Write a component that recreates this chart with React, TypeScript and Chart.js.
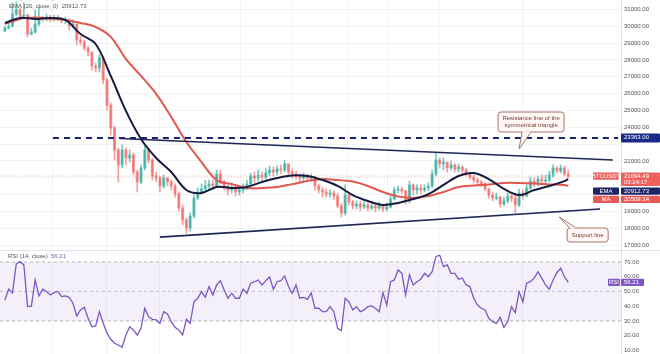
import React, { useEffect, useRef } from 'react';
import { Chart, registerables } from 'chart.js';
Chart.register(...registerables);

const FONT = '"Liberation Sans", Arial, sans-serif';

// ---- Candles (4h BTCUSDT) ----
const opens = [
  29720, 29900, 30020, 30730, 30970, 30610, 30670, 29540, 29660, 30140,
  30500, 30440, 30550, 30380, 30500, 30440, 30320, 30380, 30020, 30140,
  29190, 29070, 28710, 28470, 27640, 27520, 28120, 26810, 25320, 23960,
  22650, 21760, 22650, 22170, 22350, 21340, 20750, 21580, 22650, 22050,
  21100, 20980, 20510, 20980, 20750, 20510, 20030, 19200, 18490, 18010,
  18720, 19790, 20150, 20330, 20510, 20630, 20510, 21220, 20750, 20510,
  20270, 20450, 20150, 20270, 20390, 20630, 21100, 20980, 21160, 21040,
  21280, 21460, 21340, 21520, 21460, 21820, 21340, 21220, 21100, 20980,
  21100, 20980, 21040, 20510, 20270, 20150, 20030, 20090, 19910, 19320,
  18900, 19970, 19560, 19320, 19440, 19260, 19380, 19200, 19320, 19200,
  19380, 19140, 19260, 19730, 20270, 20330, 20210, 19620, 20570, 20270,
  20390, 20270, 20390, 20510, 21220, 22050, 21820, 21930, 21580, 21760,
  21520, 21640, 21460, 21220, 21040, 20860, 20750, 20630, 20330, 19970,
  19790, 19850, 19440, 19620, 19910, 19790, 19380, 20090, 19910, 20390,
  20800, 20630, 20920, 20800, 20860, 21160, 21580, 21400, 21580, 21220,
];
const highs = [
  30020, 30200, 31390, 31450, 31090, 31400, 30730, 29900, 30970, 31150,
  30610, 30730, 30670, 30670, 30670, 30500, 30550, 30440, 30380, 30140,
  29420, 29190, 28830, 28470, 27820, 28300, 28240, 26930, 25440, 24070,
  22770, 22950, 22770, 22650, 22470, 21460, 21760, 22890, 22770, 22170,
  21340, 21100, 21160, 21040, 20860, 20630, 20150, 19380, 18610, 18900,
  19970, 20390, 20630, 20860, 20860, 20860, 21460, 21460, 20860, 20690,
  20690, 20570, 20450, 20630, 20860, 21280, 21340, 21460, 21340, 21580,
  21700, 21640, 21700, 21760, 22050, 21820, 21520, 21400, 21220, 21280,
  21220, 21220, 21100, 20630, 20450, 20330, 20270, 20210, 20090, 19500,
  20570, 20030, 19670, 19620, 19560, 19560, 19500, 19500, 19500, 19560,
  19440, 19500, 19910, 20450, 20510, 20450, 20270, 20800, 20630, 20570,
  20570, 20570, 20690, 21460, 22470, 22170, 22170, 21930, 21990, 21820,
  21820, 21700, 21580, 21340, 21160, 20980, 20860, 20690, 20390, 20150,
  20090, 19910, 19850, 20090, 20030, 20090, 20330, 20270, 20570, 21040,
  20980, 21100, 21160, 21160, 21400, 21760, 21640, 21760, 21700, 21460,
];
const lows = [
  29660, 29840, 29960, 30610, 30500, 30500, 29370, 29480, 29600, 30020,
  30260, 30320, 30260, 30320, 30320, 30200, 30140, 29780, 29900, 28890,
  28890, 28590, 28240, 27400, 27280, 27280, 26570, 25030, 23540, 22050,
  20750, 21580, 21760, 21930, 21160, 20150, 20630, 21460, 21870, 20860,
  20750, 20150, 20390, 20510, 20270, 19850, 19020, 18190, 17710, 17830,
  18610, 19680, 20030, 20210, 20270, 20330, 20450, 20630, 20270, 19970,
  20090, 19910, 19970, 20090, 20270, 20510, 20690, 20800, 20750, 20920,
  21100, 21100, 21160, 21220, 21340, 21160, 20980, 20920, 20750, 20800,
  20750, 20800, 20270, 20090, 19850, 19850, 19850, 19680, 19200, 18660,
  18780, 19380, 19140, 19140, 19020, 19140, 19020, 19080, 18960, 19080,
  18960, 19020, 19200, 19680, 20090, 20030, 19440, 19500, 19970, 20030,
  20030, 20150, 20210, 20390, 21100, 21580, 21460, 21340, 21460, 21340,
  21340, 21220, 21100, 20920, 20690, 20570, 20450, 20210, 19790, 19620,
  19680, 19260, 19320, 19500, 19560, 18900, 19260, 19730, 19850, 20270,
  20450, 20510, 20630, 20630, 20750, 21040, 21280, 21280, 21100, 20980,
];
const closes = [
  29900, 30020, 30730, 30970, 30610, 30670, 29540, 29660, 30140, 30500,
  30440, 30550, 30380, 30500, 30440, 30320, 30380, 30020, 30140, 29190,
  29070, 28710, 28470, 27640, 27520, 28120, 26810, 25320, 23960, 22650,
  21760, 22650, 22170, 22350, 21340, 20750, 21580, 22650, 22050, 21100,
  20980, 20510, 20980, 20750, 20510, 20030, 19200, 18490, 18010, 18720,
  19790, 20150, 20330, 20510, 20630, 20510, 21220, 20750, 20510, 20270,
  20450, 20150, 20270, 20390, 20630, 21100, 20980, 21160, 21040, 21280,
  21460, 21340, 21520, 21460, 21820, 21340, 21220, 21100, 20980, 21100,
  20980, 21040, 20510, 20270, 20150, 20030, 20090, 19910, 19320, 18900,
  19970, 19560, 19320, 19440, 19260, 19380, 19200, 19320, 19200, 19380,
  19140, 19260, 19730, 20270, 20330, 20210, 19620, 20570, 20270, 20390,
  20270, 20390, 20510, 21220, 22050, 21820, 21930, 21580, 21760, 21520,
  21640, 21460, 21220, 21040, 20860, 20750, 20630, 20330, 19970, 19790,
  19850, 19440, 19620, 19910, 19790, 19380, 20090, 19910, 20390, 20800,
  20630, 20920, 20800, 20860, 21160, 21580, 21400, 21580, 21220, 21094.49,
];

// ---- Indicator lines (sampled at candle indices) ----
const lineIdx = [
  0, 4, 8, 12, 16, 20, 24, 28, 32, 36, 40, 44, 48, 52, 56, 60, 64, 68, 72, 76,
  80, 84, 88, 92, 96, 100, 104, 108, 112, 116, 120, 124, 128, 132, 136, 140, 144, 148, 149,
];
const emaVals = [
  30200, 30500, 30440, 30500, 30380, 29540, 28950, 27050, 24970, 23300,
  22170, 21340, 20270, 20090, 20450, 20390, 20450, 20750, 20980, 21130,
  21100, 20860, 20510, 19970, 19620, 19380, 19500, 19730, 20030, 20570,
  21100, 21280, 20920, 20330, 19970, 20270, 20510, 20800, 20912.73,
];
const maVals = [
  30140, 30440, 30520, 30460, 30380, 30200, 29960, 29370, 28060, 27050,
  25980, 24610, 23120, 21930, 20860, 20620, 20390, 20390, 20450, 20620,
  20800, 20920, 20860, 20770, 20510, 20150, 19890, 19790, 19910, 20150,
  20450, 20540, 20600, 20690, 20690, 20660, 20600, 20570, 20509.34,
];

// ---- RSI (14) ----
const rsi = [
  44.2, 51.5, 49, 68.6, 70.2, 68, 39.7, 40, 57.8, 47,
  51.5, 50, 47.6, 49.2, 50, 46.5, 47, 46, 42, 33.4,
  37.5, 39.3, 31.8, 26, 26.6, 36.3, 28.4, 21.7, 17.6, 14.9,
  13.7, 12.2, 20.5, 26.1, 23.9, 20.5, 25, 38.6, 32.9, 31.1,
  30.7, 28.4, 36.3, 34.7, 29.5, 25.7, 23.9, 20.5, 31.1, 28.4,
  43, 45.4, 49.9, 46, 53.3, 47.6, 54.4, 57.3, 51, 45.4,
  48.8, 45.4, 45.4, 51.5, 48.8, 55.6, 56.6, 57.8, 54.4, 57.3,
  60, 51.5, 56.6, 57.3, 60.5, 53.3, 48.8, 54.4, 45.4, 46,
  44.7, 49.2, 38.6, 38.6, 36.3, 36.3, 39.7, 36.3, 25, 23.4,
  45.4, 43, 37.5, 39.7, 36.3, 37.5, 39.7, 40.2, 38.6, 36.3,
  49.2, 40.8, 56.6, 57.8, 64.6, 62.3, 47.6, 61.2, 54.4, 56.6,
  58.3, 62.3, 60, 63.4, 73.6, 74.7, 66.8, 68, 62.3, 62.3,
  58.3, 59, 54.4, 53.3, 45.4, 40.8, 38.6, 37.5, 31.8, 29.5,
  28.4, 32.5, 25.7, 29.5, 39.7, 35.6, 49.9, 43, 55.6, 56.6,
  59, 63.4, 59, 54.4, 51.5, 57.8, 62.7, 65.7, 60, 56.21,
];

// ---- Axis ticks / levels ----
const priceTicks = [17000, 18000, 19000, 20000, 21000, 22000, 23000, 24000, 25000, 26000, 27000, 28000, 29000, 30000, 31000];
const hiddenPriceTicks = [20000, 21000, 23000];
const rsiTicks = [10, 20, 30, 40, 50, 60, 70];
const rsiLevels = [70, 50, 30];
const resistanceLevel = 23363;
const resistanceLevelX = [12.7, 162.2];
const resistanceLineX = [30.4, 160.8];
const resistanceLineY = [23330, 22050];
const supportLineX = [41, 157.4];
const supportLineY = [17470, 19140];
const lastPrice = 21094.49;
const countdown = '03:24:17';
const emaLast = 20912.73;
const maLast = 20509.34;
const rsiLast = 56.21;
const vGridIdx = [12.7, 27, 41, 62.4, 76.2, 90.5, 101.3, 114.6, 136.8];

const X_MIN = -1.3;
const X_MAX = 162.96;
const UP = 'rgba(38,166,154,0.62)';
const DOWN = 'rgba(239,83,80,0.55)';
const NAVY = '#1c2566';
const RED = '#ef5350';
const PURPLE = '#7e57c2';

function rr(ctx: CanvasRenderingContext2D, x: number, y: number, w: number, h: number, r: number) {
  ctx.beginPath();
  ctx.moveTo(x + r, y);
  ctx.lineTo(x + w - r, y);
  ctx.quadraticCurveTo(x + w, y, x + w, y + r);
  ctx.lineTo(x + w, y + h - r);
  ctx.quadraticCurveTo(x + w, y + h, x + w - r, y + h);
  ctx.lineTo(x + r, y + h);
  ctx.quadraticCurveTo(x, y + h, x, y + h - r);
  ctx.lineTo(x, y + r);
  ctx.quadraticCurveTo(x, y, x + r, y);
  ctx.closePath();
}

function badge(ctx: CanvasRenderingContext2D, x: number, y: number, w: number, h: number, bg: string, texts: string[], align: 'left' | 'center' = 'left') {
  ctx.fillStyle = bg;
  rr(ctx, x, y, w, h, 1);
  ctx.fill();
  ctx.fillStyle = '#fff';
  ctx.font = `6px ${FONT}`;
  ctx.textBaseline = 'middle';
  ctx.textAlign = align;
  texts.forEach((t, k) => {
    const tx = align === 'center' ? x + w / 2 : x + 3;
    ctx.fillText(t, tx, y + 3.6 + k * 6.3);
  });
}

function callout(ctx: CanvasRenderingContext2D, box: { x: number; y: number; w: number; h: number }, tip: { x: number; y: number }, b1: { x: number; y: number }, b2: { x: number; y: number }, lines: string[]) {
  const fill = 'rgba(255,247,245,0.95)';
  const border = '#a8746c';
  ctx.lineWidth = 1;
  rr(ctx, box.x, box.y, box.w, box.h, 3);
  ctx.fillStyle = fill;
  ctx.fill();
  ctx.strokeStyle = border;
  ctx.stroke();
  ctx.beginPath();
  ctx.moveTo(b1.x, b1.y);
  ctx.lineTo(tip.x, tip.y);
  ctx.lineTo(b2.x, b2.y);
  ctx.closePath();
  ctx.fillStyle = fill;
  ctx.fill();
  ctx.beginPath();
  ctx.moveTo(b1.x, b1.y);
  ctx.lineTo(tip.x, tip.y);
  ctx.lineTo(b2.x, b2.y);
  ctx.strokeStyle = border;
  ctx.stroke();
  ctx.beginPath();
  ctx.moveTo(b1.x + 0.8, b1.y);
  ctx.lineTo(b2.x - 0.8, b2.y);
  ctx.strokeStyle = fill;
  ctx.lineWidth = 1.4;
  ctx.stroke();
  ctx.fillStyle = '#7a3b33';
  ctx.font = `6px ${FONT}`;
  ctx.textAlign = 'center';
  ctx.textBaseline = 'middle';
  const n = lines.length;
  lines.forEach((t, k) => {
    ctx.fillText(t, box.x + box.w / 2, box.y + box.h / 2 + (k - (n - 1) / 2) * 7);
  });
}

const priceOverlay = {
  id: 'priceOverlay',
  afterDraw(chart: any) {
    const { ctx, scales } = chart;
    const xs = scales.x;
    const ys = scales.y;
    ctx.save();
    // legend rows (top-left)
    ctx.font = `6px ${FONT}`;
    ctx.fillStyle = '#555';
    ctx.textAlign = 'left';
    ctx.textBaseline = 'middle';
    ctx.fillText(`MA (50, close, 0)  ${maLast.toFixed(2)}`, 9, -1.5);
    ctx.fillText(`EMA (20, close, 0)  ${emaLast.toFixed(2)}`, 9, 6);

    // callout: resistance
    const t1 = { x: xs.getPixelForValue(136), y: ys.getPixelForValue(22707) };
    const box1 = { x: t1.x - 21, y: t1.y - 37, w: 66, h: 20 };
    callout(ctx, box1, t1, { x: box1.x + 24, y: box1.y + box1.h }, { x: box1.x + 33, y: box1.y + box1.h }, ['Resistance line of the', 'symmetrical triangle']);
    // callout: support
    const t2 = { x: xs.getPixelForValue(146.6), y: ys.getPixelForValue(18664) };
    const box2 = { x: t2.x + 8, y: t2.y + 11, w: 41, h: 14 };
    callout(ctx, box2, t2, { x: box2.x + 2.5, y: box2.y }, { x: box2.x + 9, y: box2.y }, ['Support line']);

    // right-axis badges
    const axL = chart.chartArea.right;
    const vw = 660 - axL;
    const lblX = axL - 28;
    const yr = ys.getPixelForValue(resistanceLevel);
    badge(ctx, axL, yr - 4.5, vw, 9, '#1b2a8a', [resistanceLevel.toFixed(2)]);
    const yb = ys.getPixelForValue(lastPrice);
    const btcTop = yb - 3.6;
    badge(ctx, lblX, btcTop, 26, 7.2, '#f0605c', ['BTCUSDT'], 'center');
    badge(ctx, axL, btcTop, vw, 13.5, '#f0605c', [lastPrice.toFixed(2), countdown]);
    const emaTop = btcTop + 15;
    badge(ctx, lblX, emaTop, 26, 7.2, NAVY, ['EMA'], 'center');
    badge(ctx, axL, emaTop, vw, 7.2, NAVY, [emaLast.toFixed(2)]);
    const maTop = emaTop + 8.2;
    badge(ctx, lblX, maTop, 26, 7.2, '#ea5a55', ['MA'], 'center');
    badge(ctx, axL, maTop, vw, 7.2, '#ea5a55', [maLast.toFixed(2)]);
    ctx.restore();
  },
};

const rsiOverlay = {
  id: 'rsiOverlay',
  afterDraw(chart: any) {
    const { ctx, scales, chartArea } = chart;
    const ys = scales.y;
    ctx.save();
    ctx.strokeStyle = '#e0e3eb';
    ctx.lineWidth = 1;
    ctx.beginPath();
    ctx.moveTo(0, 0.5);
    ctx.lineTo(660, 0.5);
    ctx.stroke();
    ctx.font = `6px ${FONT}`;
    ctx.textAlign = 'left';
    ctx.textBaseline = 'middle';
    ctx.fillStyle = '#555';
    const title = 'RSI (14, close)  ';
    ctx.fillText(title, 8, 6);
    const tw = ctx.measureText(title).width;
    ctx.fillStyle = PURPLE;
    ctx.fillText(rsiLast.toFixed(2), 8 + tw, 6);
    const y = ys.getPixelForValue(rsiLast);
    const axL = chartArea.right;
    badge(ctx, axL - 13, y - 3.6, 12, 7.2, PURPLE, ['RSI'], 'center');
    badge(ctx, axL, y - 3.6, 23, 7.2, PURPLE, [rsiLast.toFixed(2)]);
    ctx.restore();
  },
};

const idx = closes.map((_, i) => i);
const candleColors = closes.map((c, i) => (c >= opens[i] ? UP : DOWN));

function xScale() {
  return {
    type: 'linear' as const,
    min: X_MIN,
    max: X_MAX,
    offset: false,
    grid: { color: 'rgba(42,46,57,0.06)', drawTicks: false, offset: false },
    border: { display: false },
    ticks: { display: false },
    afterBuildTicks: (s: any) => {
      s.ticks = vGridIdx.map((v) => ({ value: v }));
    },
    afterFit: (s: any) => {
      s.height = 0;
      s.paddingLeft = 0;
      s.paddingRight = 0;
    },
  };
}

function yFit(s: any) {
  s.width = 39;
  s.paddingTop = 0;
  s.paddingBottom = 0;
}

export default function App() {
  const priceRef = useRef<HTMLCanvasElement>(null);
  const rsiRef = useRef<HTMLCanvasElement>(null);

  useEffect(() => {
    document.body.style.margin = '0';
    Chart.defaults.font.family = FONT;
    Chart.defaults.color = '#555';

    const lineDs = (data: any[], color: string, width: number, order: number, extra: any = {}) => ({
      type: 'line' as const,
      data,
      borderColor: color,
      borderWidth: width,
      pointRadius: 0,
      fill: false,
      order,
      ...extra,
    });

    const priceChart = new Chart(priceRef.current as HTMLCanvasElement, {
      type: 'bar',
      data: {
        datasets: [
          lineDs([{ x: X_MIN, y: lastPrice }, { x: X_MAX, y: lastPrice }], 'rgba(239,83,80,0.45)', 1, 10, { borderDash: [1, 2] }),
          {
            type: 'bar',
            data: idx.map((i) => ({ x: i, y: [lows[i], highs[i]] })),
            backgroundColor: candleColors,
            barThickness: 1,
            grouped: false,
            order: 6,
          },
          {
            type: 'bar',
            data: idx.map((i) => ({ x: i, y: [opens[i], closes[i]] })),
            backgroundColor: candleColors,
            barThickness: 2.4,
            minBarLength: 1,
            grouped: false,
            order: 5,
          },
          lineDs(lineIdx.map((v, k) => ({ x: v, y: maVals[k] })), '#e0574f', 2, 3, { tension: 0.35 }),
          lineDs(lineIdx.map((v, k) => ({ x: v, y: emaVals[k] })), '#161c40', 2, 2, { tension: 0.35 }),
          lineDs(resistanceLevelX.map((v) => ({ x: v, y: resistanceLevel })), '#1c2470', 2, 1, { borderDash: [6, 5] }),
          lineDs(resistanceLineX.map((v, k) => ({ x: v, y: resistanceLineY[k] })), '#1f2656', 1.6, 1),
          lineDs(supportLineX.map((v, k) => ({ x: v, y: supportLineY[k] })), '#1f2656', 1.6, 1),
        ] as any,
      },
      options: {
        responsive: false,
        animation: false,
        devicePixelRatio: 1,
        events: [],
        layout: { padding: 0 },
        plugins: { legend: { display: false }, tooltip: { enabled: false } },
        scales: {
          x: xScale(),
          y: {
            type: 'linear',
            position: 'right',
            min: 16703,
            max: 31565,
            grid: { color: 'rgba(42,46,57,0.06)', drawTicks: false },
            border: { display: true, color: '#dfe1e8' },
            ticks: {
              color: '#555',
              font: { size: 6, family: FONT },
              padding: 3,
              callback: (v: any) => (hiddenPriceTicks.includes(Number(v)) ? '' : Number(v).toFixed(2)),
            },
            afterBuildTicks: (s: any) => {
              s.ticks = priceTicks.map((v) => ({ value: v }));
            },
            afterFit: yFit,
          },
        } as any,
      },
      plugins: [priceOverlay],
    });

    const rsiChart = new Chart(rsiRef.current as HTMLCanvasElement, {
      type: 'line',
      data: {
        datasets: [
          lineDs([{ x: X_MIN, y: rsiLevels[0] }, { x: X_MAX, y: rsiLevels[0] }], 'rgba(120,123,134,0.55)', 1, 3, {
            borderDash: [3, 3],
            fill: '+1',
            backgroundColor: 'rgba(126,87,194,0.09)',
          }),
          lineDs([{ x: X_MIN, y: rsiLevels[2] }, { x: X_MAX, y: rsiLevels[2] }], 'rgba(120,123,134,0.55)', 1, 3, { borderDash: [3, 3] }),
          lineDs([{ x: X_MIN, y: rsiLevels[1] }, { x: X_MAX, y: rsiLevels[1] }], 'rgba(120,123,134,0.4)', 1, 3, { borderDash: [3, 3] }),
          lineDs(idx.map((i) => ({ x: i, y: rsi[i] })), PURPLE, 1.3, 1),
        ] as any,
      },
      options: {
        responsive: false,
        animation: false,
        devicePixelRatio: 1,
        events: [],
        layout: { padding: 0 },
        plugins: { legend: { display: false }, tooltip: { enabled: false } },
        scales: {
          x: xScale(),
          y: {
            type: 'linear',
            position: 'right',
            min: 7.6,
            max: 78.1,
            grid: { display: false, drawTicks: false },
            border: { display: true, color: '#dfe1e8' },
            ticks: {
              color: '#555',
              font: { size: 6, family: FONT },
              padding: 3,
              callback: (v: any) => Number(v).toFixed(2),
            },
            afterBuildTicks: (s: any) => {
              s.ticks = rsiTicks.map((v) => ({ value: v }));
            },
            afterFit: yFit,
          },
        } as any,
      },
      plugins: [rsiOverlay],
    });

    return () => {
      priceChart.destroy();
      rsiChart.destroy();
    };
  }, []);

  return (
    <div style={{ width: 660, height: 354, background: '#fff', overflow: 'hidden' }}>
      <canvas ref={priceRef} width={660} height={250} style={{ display: 'block' }} />
      <canvas ref={rsiRef} width={660} height={104} style={{ display: 'block' }} />
    </div>
  );
}
